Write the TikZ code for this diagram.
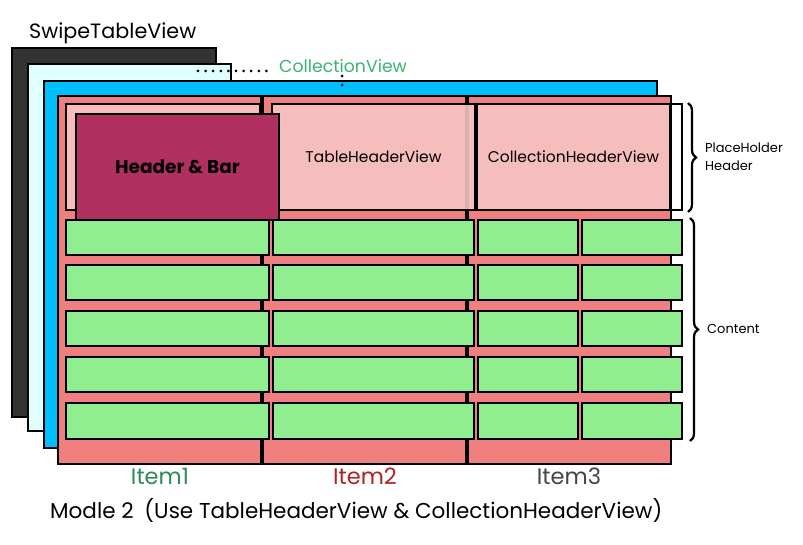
\documentclass[tikz,border=0pt]{standalone}
\usepackage{fontspec}
\setmainfont{Poppins}
\usetikzlibrary{decorations.pathreplacing}

\definecolor{darkpanel}{HTML}{333333}
\definecolor{cyanpanel}{HTML}{E0FFFF}
\definecolor{bluepanel}{HTML}{00BFFF}
\definecolor{salmon}{HTML}{F08080}
\definecolor{pinkpanel}{HTML}{F7C4C4}
\definecolor{barred}{HTML}{B03060}
\definecolor{cellgreen}{HTML}{90EE90}
\definecolor{labelgreen}{HTML}{3CB371}
\definecolor{itemgreen}{HTML}{2E8B57}
\definecolor{itemred}{HTML}{B22222}
\definecolor{itemgray}{HTML}{444444}

% \panel{name}{x1}{y1}{x2}{y2}{style}{text}
\newcommand\panel[7]{%
  \node[#6, anchor=north west,
        minimum width={(#4-#2)*1pt}, minimum height={(#5-#3)*1pt}]
        (#1) at (#2,#3) {#7};}

\tikzset{
  frame/.style={rectangle, draw=black, line width=2.2pt, inner sep=0pt, outer sep=0pt},
  cell/.style={frame, fill=cellgreen},
  column/.style={frame, fill=salmon},
  hpanel/.style={frame, fill=pinkpanel, fill opacity=0.9, text opacity=1},
  brace/.style={decorate, decoration={brace, amplitude=8pt}, line width=2.2pt},
  dots/.style={line width=3pt, line cap=round, dash pattern=on 0pt off 7.6pt},
  note/.style={anchor=base west, inner sep=0pt, font=\fontsize{13}{18}\selectfont, align=left},
  itemlabel/.style={anchor=base, inner sep=0pt, font=\fontsize{22.5}{24}\selectfont},
}

\begin{document}
\begin{tikzpicture}[x=1pt,y=-1pt]
\useasboundingbox (0,0) rectangle (803,545);

% stacked view layers
\panel{swipe}{12}{48}{216}{417}{frame, fill=darkpanel}{}
\panel{collection}{28}{64}{231}{431}{frame, fill=cyanpanel}{}
\panel{scroll}{44}{81}{657}{448}{frame, fill=bluepanel}{}

% item columns
\panel{col1}{58}{96}{261}{464}{column}{}
\panel{col2}{263}{96}{466}{464}{column}{}
\panel{col3}{468}{96}{671}{464}{column}{}

% header panels
\panel{ph1}{66}{104}{260}{210}{hpanel}{}
\panel{ph2}{272}{104}{475}{210}{hpanel}{\fontsize{15.5}{18}\selectfont TableHeaderView}
\panel{ph3}{477}{104}{670}{210}{hpanel}{}
\panel{ph3box}{477}{104}{682}{210}{frame}{}
\node[font=\fontsize{15.5}{18}\selectfont] (ph3text) at (ph3) {CollectionHeaderView};
\panel{bar}{76}{114}{279}{220}{frame, fill=barred}{\fontsize{18.5}{20}\selectfont\bfseries Header \& Bar}

% content cells
\foreach \r/\ya/\yb in {1/220/255, 2/265/300, 3/311/346, 4/357/392, 5/403/439}{
  \panel{c\r a}{66}{\ya}{269}{\yb}{cell}{}
  \panel{c\r b}{273}{\ya}{474}{\yb}{cell}{}
  \panel{c\r c}{478}{\ya}{578}{\yb}{cell}{}
  \panel{c\r d}{582}{\ya}{682}{\yb}{cell}{}
}

% braces and their labels
\coordinate (b1top) at (688,103);
\coordinate (b1bot) at (688,212);
\draw[brace] (b1top) -- (b1bot);
\node[note] (phlabel) at (705,171) {PlaceHolder\\Header};
\coordinate (b2top) at (690,218);
\coordinate (b2bot) at (690,441);
\draw[brace] (b2top) -- (b2bot);
\node[note] (contentlabel) at (707,333) {Content};

% titles
\node[anchor=base west, inner sep=0pt, font=\fontsize{20.7}{24}\selectfont] (title) at (29,39) {SwipeTableView};
\node[anchor=base west, inner sep=0pt, text=labelgreen, font=\fontsize{17.3}{20}\selectfont] (cvlabel) at (279,73) {CollectionView};
\coordinate (dotstart) at (198,71);
\coordinate (dotend) at (271,71);
\draw[dots] (dotstart) -- (dotend);
\coordinate (vdot) at (342,76);
\coordinate (vdotend) at (342,86);
\draw[dots, dash pattern=on 0pt off 9pt] (vdot) -- (vdotend);

% item labels
\node[itemlabel, text=itemgreen] (item1) at (160,484) {Item1};
\node[itemlabel, text=itemred] (item2) at (365,484) {Item2};
\node[itemlabel, text=itemgray] (item3) at (569,484) {Item3};

\node[anchor=base west, inner sep=0pt, font=\fontsize{21.5}{24}\selectfont] (caption) at (50,518)
  {Modle 2\enspace(Use TableHeaderView \& CollectionHeaderView)};
\end{tikzpicture}
\end{document}
